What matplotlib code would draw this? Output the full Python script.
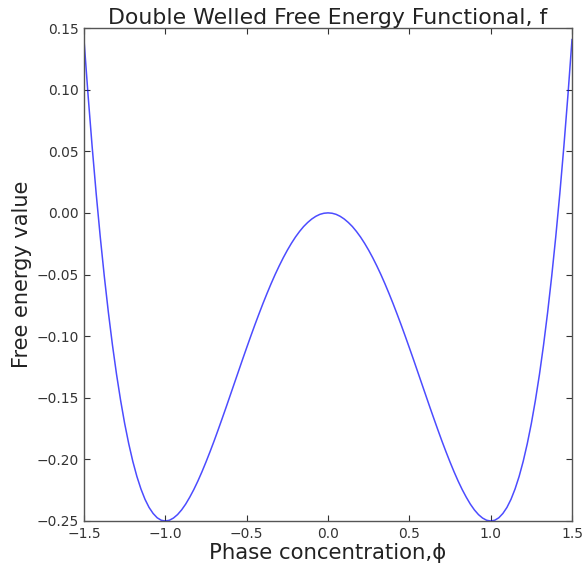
import matplotlib
matplotlib.use("Agg")
import matplotlib.pyplot as plt

# Values (phase concentration vs free energy)
phi = [-1.500, -1.475, -1.450, -1.425, -1.400, -1.375, -1.350, -1.325, -1.300, -1.275,
       -1.250, -1.225, -1.200, -1.175, -1.150, -1.125, -1.100, -1.075, -1.050, -1.025,
       -1.000, -0.975, -0.950, -0.925, -0.900, -0.875, -0.850, -0.825, -0.800, -0.775,
       -0.750, -0.725, -0.700, -0.675, -0.650, -0.625, -0.600, -0.575, -0.550, -0.525,
       -0.500, -0.475, -0.450, -0.425, -0.400, -0.375, -0.350, -0.325, -0.300, -0.275,
       -0.250, -0.225, -0.200, -0.175, -0.150, -0.125, -0.100, -0.075, -0.050, -0.025,
       0.000, 0.025, 0.050, 0.075, 0.100, 0.125, 0.150, 0.175, 0.200, 0.225,
       0.250, 0.275, 0.300, 0.325, 0.350, 0.375, 0.400, 0.425, 0.450, 0.475,
       0.500, 0.525, 0.550, 0.575, 0.600, 0.625, 0.650, 0.675, 0.700, 0.725,
       0.750, 0.775, 0.800, 0.825, 0.850, 0.875, 0.900, 0.925, 0.950, 0.975,
       1.000, 1.025, 1.050, 1.075, 1.100, 1.125, 1.150, 1.175, 1.200, 1.225,
       1.250, 1.275, 1.300, 1.325, 1.350, 1.375, 1.400, 1.425, 1.450, 1.475, 1.500]
energy = [0.1406, 0.0955, 0.0539, 0.0155, -0.0196, -0.0517, -0.0809, -0.1073, -0.1310, -0.1521,
          -0.1709, -0.1873, -0.2016, -0.2138, -0.2240, -0.2324, -0.2390, -0.2439, -0.2474, -0.2494,
          -0.2500, -0.2494, -0.2476, -0.2448, -0.2410, -0.2363, -0.2307, -0.2245, -0.2176, -0.2101,
          -0.2021, -0.1937, -0.1850, -0.1759, -0.1666, -0.1572, -0.1476, -0.1380, -0.1284, -0.1188,
          -0.1094, -0.1001, -0.0910, -0.0822, -0.0736, -0.0654, -0.0575, -0.0500, -0.0430, -0.0364,
          -0.0303, -0.0247, -0.0196, -0.0151, -0.0111, -0.0078, -0.0050, -0.0028, -0.0012, -0.0003,
          0.0000, -0.0003, -0.0012, -0.0028, -0.0050, -0.0078, -0.0111, -0.0151, -0.0196, -0.0247,
          -0.0303, -0.0364, -0.0430, -0.0500, -0.0575, -0.0654, -0.0736, -0.0822, -0.0910, -0.1001,
          -0.1094, -0.1188, -0.1284, -0.1380, -0.1476, -0.1572, -0.1666, -0.1759, -0.1850, -0.1937,
          -0.2021, -0.2101, -0.2176, -0.2245, -0.2307, -0.2363, -0.2410, -0.2448, -0.2476, -0.2494,
          -0.2500, -0.2494, -0.2474, -0.2439, -0.2390, -0.2324, -0.2240, -0.2138, -0.2016, -0.1873,
          -0.1709, -0.1521, -0.1310, -0.1073, -0.0809, -0.0517, -0.0196, 0.0155, 0.0539, 0.0955, 0.1406]

title = "Double Welled Free Energy Functional, f"
xlabel = "Phase concentration,\u03d5"
ylabel = "Free energy value"
xticks = [-1.5, -1.0, -0.5, 0.0, 0.5, 1.0, 1.5]
yticks = [-0.25, -0.20, -0.15, -0.10, -0.05, 0.00, 0.05, 0.10, 0.15]

fig = plt.figure(figsize=(5.82, 5.69), dpi=100)
ax = fig.add_axes([84/582, 1 - 521/569, (572-84)/582, (521-28)/569])
ax.plot(phi, energy, color="#0000ff", lw=1.1, alpha=0.7, solid_joinstyle="round")
ax.set_xlim(-1.5, 1.5)
ax.set_ylim(-0.25, 0.15)
ax.set_xticks(xticks)
ax.set_xticklabels([f"{t:.1f}".replace("-", "\u2212") for t in xticks])
ax.set_yticks(yticks)
ax.set_yticklabels([f"{t:.2f}".replace("-", "\u2212") for t in yticks])
ax.tick_params(direction="in", top=True, right=True, length=4, labelsize=10,
               colors="#333333", pad=4)
ax.tick_params(axis="x", pad=4)
for s in ax.spines.values():
    s.set_color("#555555")
    s.set_linewidth(1.0)
ax.set_title(title, fontsize=15.8, color="#222222", pad=3)
ax.set_xlabel(xlabel, fontsize=15.3, color="#222222", labelpad=2)
ax.set_ylabel(ylabel, fontsize=15, color="#222222", labelpad=3)
fig.savefig("out.png", dpi=100)
